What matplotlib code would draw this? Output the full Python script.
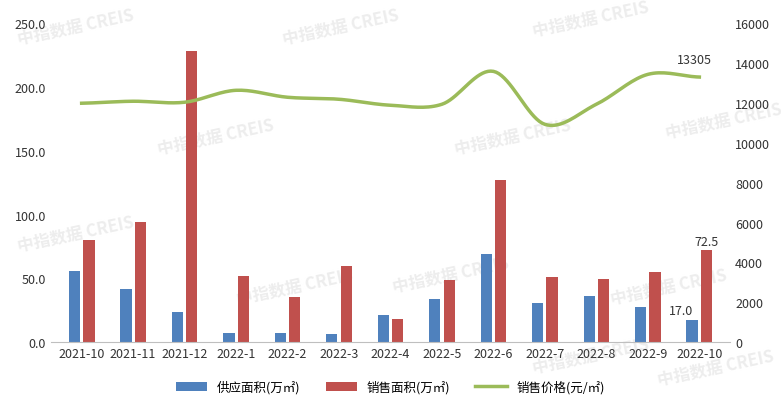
import numpy as np
import matplotlib
matplotlib.use("Agg")
import matplotlib.pyplot as plt

plt.rcParams['font.family'] = ['Noto Sans CJK SC', 'DejaVu Sans']

months = ["2021-10","2021-11","2021-12","2022-1","2022-2","2022-3","2022-4","2022-5","2022-6","2022-7","2022-8","2022-9","2022-10"]
supply = [55.6,41.5,23.5,7.0,7.0,6.0,21.0,33.7,69.0,30.5,36.0,27.4,17.0]
sales = [80.0,94.0,228.0,51.7,35.0,60.0,18.0,48.6,127.0,51.0,49.4,55.0,72.5]
price = [11990,12090,12040,12640,12290,12190,11890,11940,13590,10930,11940,13440,13305]

fig = plt.figure(figsize=(7.81,4.06), dpi=100)
ax = fig.add_axes([0.065,0.155,0.87,0.785])
ax.patch.set_alpha(0)
x = np.arange(len(months))
w = 0.22
ax.bar(x-0.14, supply, w, color='#4f81bd', label='供应面积(万㎡)', zorder=2)
ax.bar(x+0.14, sales, w, color='#c0504d', label='销售面积(万㎡)', zorder=2)
ax.set_ylim(0,250)
ax.set_yticks(np.arange(0,251,50))
ax.set_yticklabels([f"{v:.1f}" for v in np.arange(0,251,50)])
ax.set_xticks(x)
ax.set_xticklabels(months)
ax.set_xlim(-0.6,12.6)
for s in ['top','right','left']:
    ax.spines[s].set_visible(False)
ax.spines['bottom'].set_color('#bfbfbf')
ax.tick_params(axis='both', length=0, labelsize=9, colors='#333333')
ax.text(x[-1]-0.35, supply[-1]+5, "17.0", ha='center', fontsize=9, color='#333333')
ax.text(x[-1]+0.14, sales[-1]+4, "72.5", ha='center', fontsize=9, color='#333333')

ax2 = ax.twinx()
ax2.set_ylim(0,16000)
ax2.set_yticks(np.arange(0,16001,2000))
for s in ['top','right','left','bottom']:
    ax2.spines[s].set_visible(False)
ax2.tick_params(axis='y', length=0, labelsize=9, colors='#333333')

# Catmull-Rom smoothing for display
p = np.array(price, float)
px = np.concatenate([[x[0]-1], x, [x[-1]+1]]).astype(float)
pp = np.concatenate([[p[0]], p, [p[-1]]])
xs, ys = [], []
for i in range(1, len(px)-2):
    t = np.linspace(0,1,20)
    for arr, out in ((px, xs), (pp, ys)):
        p0,p1,p2,p3 = arr[i-1],arr[i],arr[i+1],arr[i+2]
        out.extend(0.5*((2*p1)+(-p0+p2)*t+(2*p0-5*p1+4*p2-p3)*t**2+(-p0+3*p1-3*p2+p3)*t**3))
ax2.plot(xs, ys, color='#9bbb59', lw=2.5, label='销售价格(元/㎡)')
ax2.text(x[-1]-0.1, price[-1]+700, "13305", ha='center', fontsize=9, color='#333333')

for (fx, fy) in [(0.02,0.89),(0.36,0.89),(0.68,0.91),(0.2,0.62),(0.58,0.62),(0.85,0.66),(0.02,0.38),(0.3,0.25),(0.5,0.28),(0.78,0.25),(0.68,0.08),(0.84,0.05)]:
    fig.text(fx, fy, "中指数据 CREIS", fontsize=12, color='#ededed', rotation=12, fontweight='bold', zorder=-1)

h1,l1 = ax.get_legend_handles_labels()
h2,l2 = ax2.get_legend_handles_labels()
fig.legend(h1+h2, l1+l2, loc='lower center', ncol=3, frameon=False, fontsize=9, bbox_to_anchor=(0.5,0.0), handlelength=2.5)
fig.savefig("out.png", dpi=100)
